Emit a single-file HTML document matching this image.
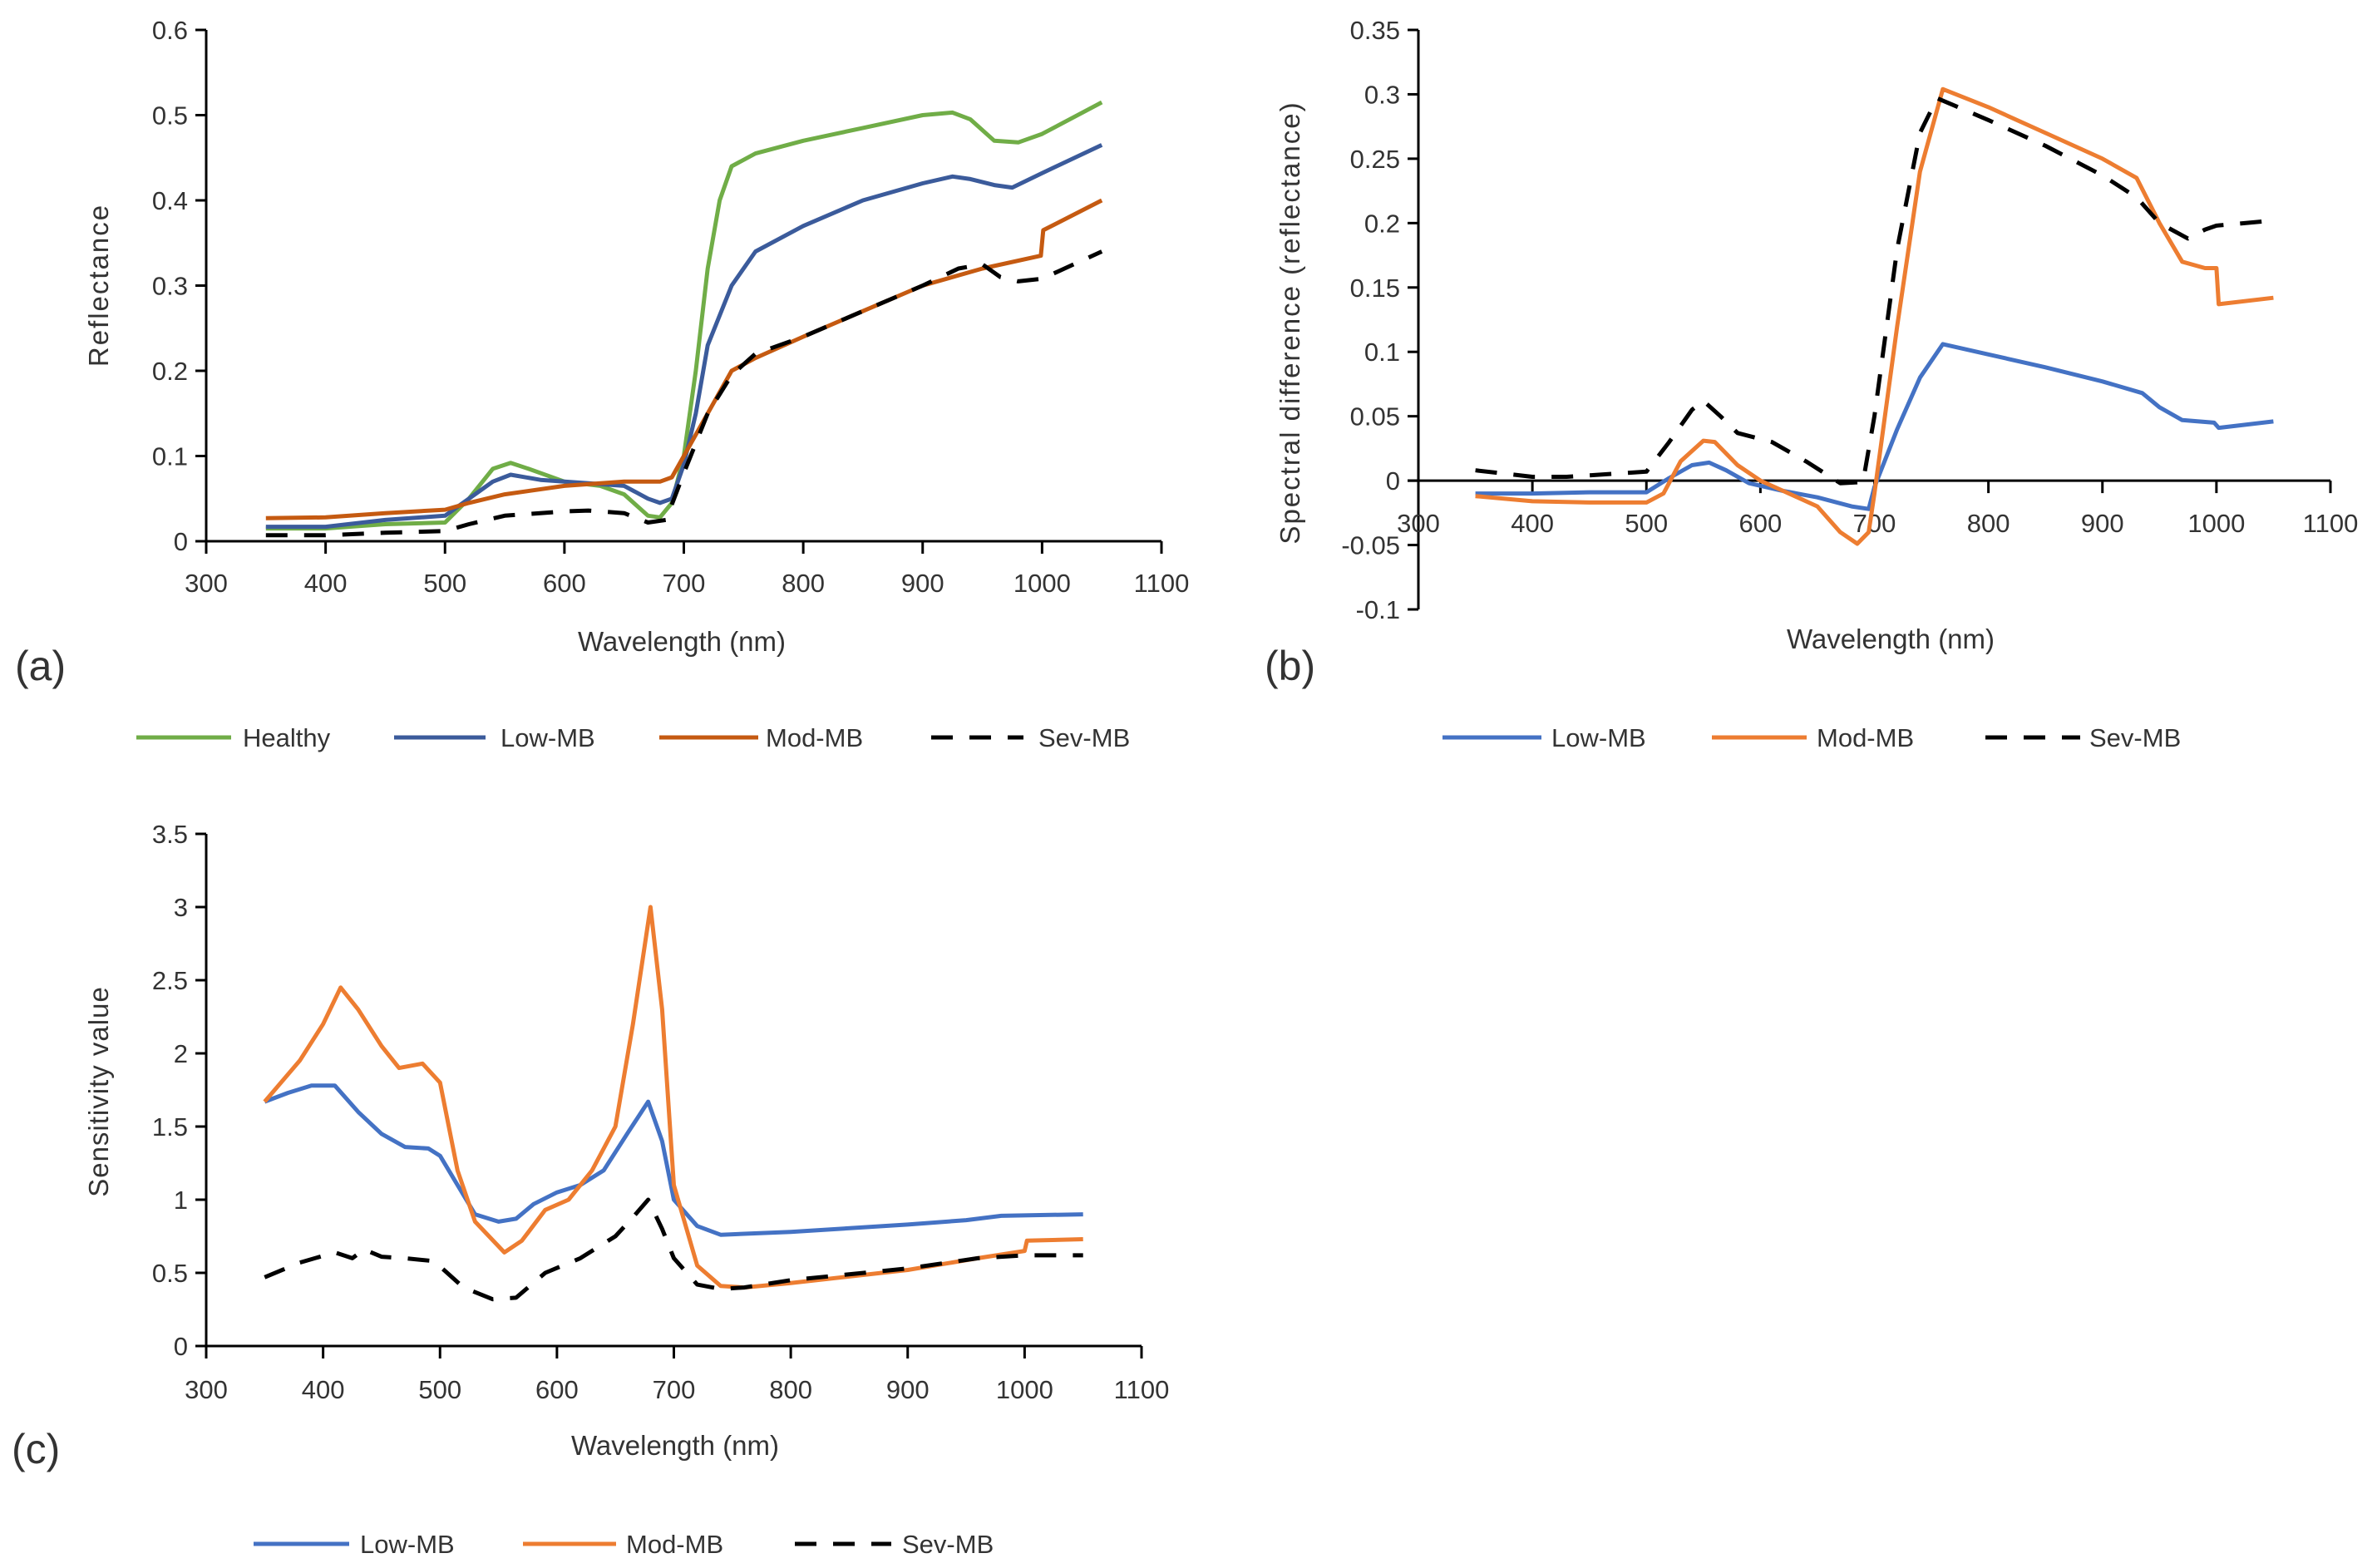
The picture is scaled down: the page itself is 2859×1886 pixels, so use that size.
<!DOCTYPE html>
<html><head><meta charset="utf-8"><style>
html,body{margin:0;padding:0;background:#fff;}
svg{display:block;}
text{font-family:"Liberation Sans",sans-serif;fill:#333;}
</style></head><body>
<svg id="fig" width="2859" height="1886" viewBox="0 0 2859 1886" xmlns="http://www.w3.org/2000/svg"></svg>
<script>
// ---- Panel (a) data ----
const aHealthyX=[350,400,450,500,520,540,555,570,600,630,650,670,680,690,700,710,720,730,740,760,800,850,900,925,940,960,980,1000,1050];
const aHealthyY=[0.015,0.015,0.02,0.022,0.05,0.085,0.092,0.085,0.07,0.065,0.055,0.03,0.028,0.045,0.1,0.2,0.32,0.4,0.44,0.455,0.47,0.485,0.5,0.503,0.495,0.47,0.468,0.478,0.515];
const aLowX=[350,400,450,500,520,540,555,580,620,650,670,680,690,700,710,720,740,760,800,850,900,925,940,960,975,1000,1050];
const aLowY=[0.017,0.017,0.025,0.03,0.05,0.07,0.078,0.072,0.068,0.065,0.05,0.045,0.05,0.09,0.15,0.23,0.3,0.34,0.37,0.4,0.42,0.428,0.425,0.418,0.415,0.432,0.465];
const aModX=[350,400,450,500,520,550,600,650,680,690,700,720,740,760,800,850,900,950,999,1001,1050];
const aModY=[0.027,0.028,0.033,0.037,0.045,0.055,0.065,0.07,0.07,0.075,0.1,0.15,0.2,0.215,0.24,0.27,0.3,0.32,0.335,0.365,0.4];
const aSevX=[350,400,450,500,520,550,600,620,650,670,685,700,720,740,760,800,850,900,930,950,965,980,1000,1050];
const aSevY=[0.007,0.007,0.01,0.012,0.02,0.03,0.035,0.036,0.033,0.022,0.025,0.08,0.15,0.195,0.22,0.24,0.27,0.3,0.32,0.325,0.31,0.305,0.308,0.34];
const aYTicks=[0,0.1,0.2,0.3,0.4,0.5,0.6];
const aYTickLabels=["0","0.1","0.2","0.3","0.4","0.5","0.6"];
// ---- Panel (b) data ----
const bLowX=[350,400,450,500,520,540,555,570,590,620,650,680,695,700,720,740,760,800,850,900,935,950,970,998,1002,1050];
const bLowY=[-0.01,-0.01,-0.009,-0.009,0.002,0.012,0.014,0.008,-0.002,-0.008,-0.013,-0.02,-0.022,-0.005,0.04,0.08,0.106,0.098,0.088,0.077,0.068,0.057,0.047,0.045,0.041,0.046];
const bModX=[350,400,450,500,515,530,550,560,580,600,620,650,670,685,695,700,720,740,760,800,850,900,930,950,970,990,1000,1002,1050];
const bModY=[-0.012,-0.016,-0.017,-0.017,-0.01,0.015,0.031,0.03,0.012,0.0,-0.008,-0.02,-0.04,-0.049,-0.04,-0.01,0.12,0.24,0.304,0.29,0.27,0.25,0.235,0.2,0.17,0.165,0.165,0.137,0.142];
const bSevX=[350,400,430,500,520,540,550,565,580,610,640,670,690,700,720,740,755,800,850,900,930,950,975,990,1000,1050];
const bSevY=[0.008,0.003,0.003,0.007,0.03,0.055,0.062,0.05,0.037,0.03,0.015,-0.002,-0.001,0.05,0.18,0.27,0.297,0.28,0.26,0.237,0.22,0.2,0.188,0.195,0.198,0.202];
const bYTicks=[-0.1,-0.05,0,0.05,0.1,0.15,0.2,0.25,0.3,0.35];
const bYTickLabels=["-0.1","-0.05","0","0.05","0.1","0.15","0.2","0.25","0.3","0.35"];
// ---- Panel (c) data ----
const cLowX=[350,370,390,410,430,450,470,490,500,515,530,550,565,580,600,620,640,660,678,690,700,720,740,800,900,950,980,1050];
const cLowY=[1.67,1.73,1.78,1.78,1.6,1.45,1.36,1.35,1.3,1.1,0.9,0.85,0.87,0.97,1.05,1.1,1.2,1.45,1.67,1.4,1.0,0.82,0.76,0.78,0.83,0.86,0.89,0.9];
const cModX=[350,380,400,415,430,450,465,485,500,515,530,555,570,590,610,630,650,665,680,690,700,720,740,760,800,900,960,1000,1002,1050];
const cModY=[1.67,1.95,2.2,2.45,2.3,2.05,1.9,1.93,1.8,1.2,0.85,0.64,0.72,0.93,1.0,1.2,1.5,2.2,3.0,2.3,1.1,0.55,0.41,0.4,0.43,0.52,0.6,0.65,0.72,0.73];
const cSevX=[350,380,410,425,435,450,470,495,520,545,565,590,620,650,665,678,690,700,720,740,760,800,900,960,1000,1050];
const cSevY=[0.47,0.57,0.64,0.6,0.66,0.61,0.6,0.58,0.4,0.32,0.33,0.5,0.6,0.75,0.88,1.0,0.8,0.6,0.42,0.39,0.4,0.45,0.53,0.6,0.62,0.62];
const cYTicks=[0,0.5,1,1.5,2,2.5,3,3.5];
const cYTickLabels=["0","0.5","1","1.5","2","2.5","3","3.5"];
const xTicks=[300,400,500,600,700,800,900,1000,1100];
const xTickLabels=["300","400","500","600","700","800","900","1000","1100"];

const NS="http://www.w3.org/2000/svg";
const fig=document.getElementById('fig');
function mk(tag,attrs,parent,txt){const e=document.createElementNS(NS,tag);for(const k in attrs)e.setAttribute(k,attrs[k]);if(txt!==undefined)e.textContent=txt;(parent||fig).appendChild(e);return e;}

function panel(cfg){
  const g=mk('g',{});
  
  
  const sx=v=>cfg.x0+(v-300)/(1100-300)*(cfg.x1-cfg.x0);
  const sy=v=>cfg.yb+(v-cfg.ymin)/(cfg.ymax-cfg.ymin)*(cfg.yt-cfg.yb);
  const axY=sy(0);
  // y axis
  const ya=mk('line',{x1:cfg.x0,x2:cfg.x0,y1:sy(cfg.ymin),y2:sy(cfg.ymax),stroke:'#000','stroke-width':3},g);
  
  
  cfg.yTicks.forEach((t,i)=>{
    mk('line',{x1:cfg.x0-13,x2:cfg.x0,y1:sy(t),y2:sy(t),stroke:'#000','stroke-width':3},g);
    const tl=mk('text',{x:cfg.x0-22,y:sy(t)+11,'font-size':31,'text-anchor':'end'},g,cfg.yLabels[i]);
    
    
  });
  const xa=mk('line',{x1:cfg.x0-13,x2:cfg.x1,y1:axY,y2:axY,stroke:'#000','stroke-width':3},g);
  
  
  xTicks.forEach((t,i)=>{
    mk('line',{x1:sx(t),x2:sx(t),y1:axY,y2:axY+15,stroke:'#000','stroke-width':3},g);
    const tl=mk('text',{x:sx(t),y:cfg.xLabY,'font-size':31,'text-anchor':'middle'},g,xTickLabels[i]);
    
    
  });
  cfg.series.forEach(s=>{
    const d=s.x.map((v,i)=>(i?'L':'M')+sx(v).toFixed(1)+','+sy(s.y[i]).toFixed(1)).join('');
    const p=mk('path',{d:d,fill:'none',stroke:s.c,'stroke-width':5,'stroke-linejoin':'round'},g);
    if(s.dash)p.setAttribute('stroke-dasharray','26,20');
    
    
  });
  const xt=mk('text',{x:cfg.xtX,y:cfg.xtY,'font-size':33,'text-anchor':'middle'},g,'Wavelength (nm)');
  
  
  const yt=mk('text',{x:0,y:0,'font-size':33,'text-anchor':'middle','letter-spacing':cfg.ls||0,transform:`translate(${cfg.ytX},${cfg.ytY}) rotate(-90)`},g,cfg.yTitle);
  
  
  const pl=mk('text',{x:cfg.plX,y:cfg.plY,'font-size':50,'text-anchor':'start'},g,cfg.pLabel);
  
  
  cfg.legend.forEach(l=>{
    const lg=mk('g',{},g);
    
    
    const ln=mk('line',{x1:l.a,x2:l.b,y1:cfg.legY,y2:cfg.legY,stroke:l.c,'stroke-width':5},lg);
    if(l.dash)ln.setAttribute('stroke-dasharray','26,20');
    mk('text',{x:l.t,y:cfg.legY+11,'font-size':31},lg,l.label);
  });
}

const G='#70ad47',DB='#3b5b9b',BR='#c55a11',LB='#4472c4',OR='#ed7d31',K='#000';
panel({name:'chart-a',x0:248,x1:1397,yb:651,yt:36,ymin:0,ymax:0.6,yTicks:aYTicks,yLabels:aYTickLabels,xLabY:712,
  xtX:820,xtY:783,ytX:130,ytY:343,yTitle:'Reflectance',ls:2,plX:18,plY:818,pLabel:'(a)',legY:887,
  series:[{x:aHealthyX,y:aHealthyY,c:G,n:'healthy'},{x:aLowX,y:aLowY,c:DB,n:'low-mb'},{x:aModX,y:aModY,c:BR,n:'mod-mb'},{x:aSevX,y:aSevY,c:K,dash:1,n:'sev-mb'}],
  legend:[{a:164,b:278,t:292,c:G,label:'Healthy',n:'healthy'},{a:474,b:584,t:602,c:DB,label:'Low-MB',n:'low-mb'},{a:793,b:912,t:921,c:BR,label:'Mod-MB',n:'mod-mb'},{a:1120,b:1231,t:1249,c:K,dash:1,label:'Sev-MB',n:'sev-mb'}]});
panel({name:'chart-b',x0:1706,x1:2803,yb:733,yt:36,ymin:-0.1,ymax:0.35,yTicks:bYTicks,yLabels:bYTickLabels,xLabY:640,
  xtX:2274,xtY:780,ytX:1563,ytY:388,yTitle:'Spectral difference (reflectance)',ls:2,plX:1521,plY:818,pLabel:'(b)',legY:887,
  series:[{x:bLowX,y:bLowY,c:LB,n:'low-mb'},{x:bModX,y:bModY,c:OR,n:'mod-mb'},{x:bSevX,y:bSevY,c:K,dash:1,n:'sev-mb'}],
  legend:[{a:1735,b:1854,t:1866,c:LB,label:'Low-MB',n:'low-mb'},{a:2059,b:2173,t:2185,c:OR,label:'Mod-MB',n:'mod-mb'},{a:2388,b:2502,t:2513,c:K,dash:1,label:'Sev-MB',n:'sev-mb'}]});
panel({name:'chart-c',x0:248,x1:1373,yb:1619,yt:1003,ymin:0,ymax:3.5,yTicks:cYTicks,yLabels:cYTickLabels,xLabY:1682,
  xtX:812,xtY:1750,ytX:130,ytY:1313,yTitle:'Sensitivity value',ls:1,plX:14,plY:1760,pLabel:'(c)',legY:1857,
  series:[{x:cLowX,y:cLowY,c:LB,n:'low-mb'},{x:cModX,y:cModY,c:OR,n:'mod-mb'},{x:cSevX,y:cSevY,c:K,dash:1,n:'sev-mb'}],
  legend:[{a:305,b:420,t:433,c:LB,label:'Low-MB',n:'low-mb'},{a:629,b:741,t:753,c:OR,label:'Mod-MB',n:'mod-mb'},{a:956,b:1072,t:1085,c:K,dash:1,label:'Sev-MB',n:'sev-mb'}]});
</script>
</body></html>
